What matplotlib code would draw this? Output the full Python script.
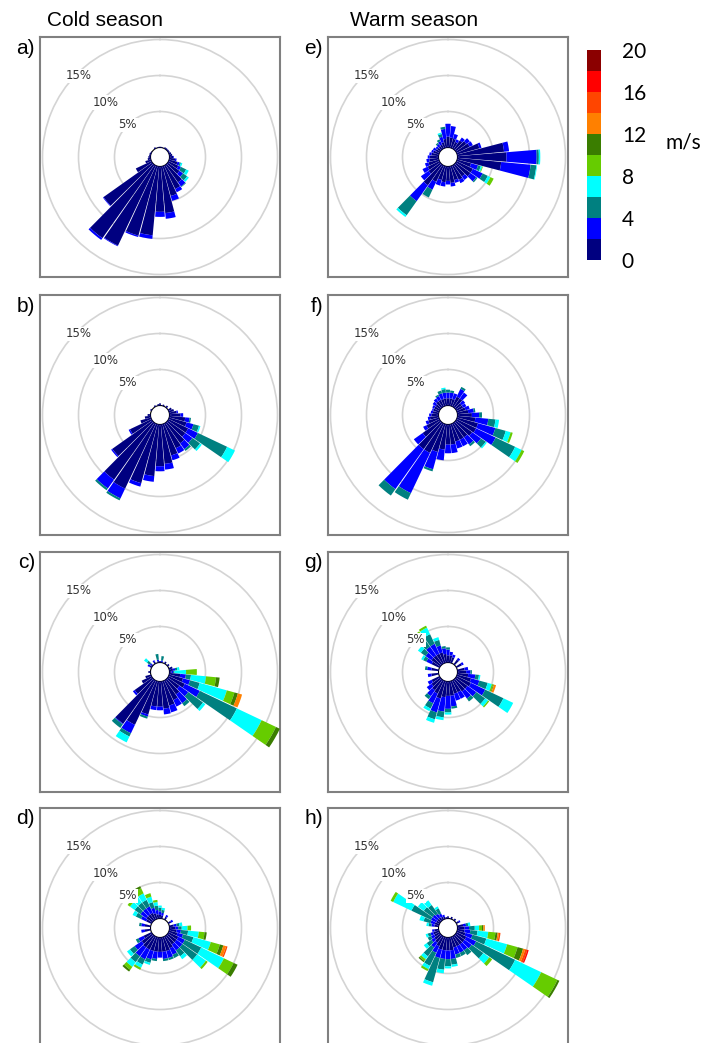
import numpy as np
import matplotlib as mpl
import matplotlib.pyplot as plt
from matplotlib.colors import ListedColormap, BoundaryNorm

# speed classes (m/s) and their colours
speed_edges = [0, 2, 4, 6, 8, 10, 12, 14, 16, 18, 20]
speed_colors = ['#000080', '#0000ff', '#008080', '#00ffff', '#66cc00',
                '#3a7d00', '#ff8000', '#ff4500', '#ff0000', '#8b0000']
cbar_ticks = [0, 4, 8, 12, 16, 20]

ring_levels = [5, 10, 15]
ring_labels = ['5%', '10%', '15%']

# frequency (%) per direction (deg), stacked by speed class
rose_a = [(0, [0.1]), (10, [0.1]), (30, [0.2]), (40, [0.2]), (50, [0.2]), (60, [0.2]),
          (70, [0.3]), (80, [0.4]), (90, [0.5, 0.1]), (100, [0.8, 0.2]),
          (110, [1.2, 0.3, 0.2, 0.2]), (120, [1.5, 0.4, 0.8, 0.4]), (130, [2.0, 0.6, 0.7, 0.3]),
          (140, [3.0, 0.7, 0.1]), (150, [3.6, 0.5]), (160, [4.3, 0.7]), (170, [6.5, 0.8]),
          (180, [6.3, 0.7]), (190, [9.6, 0.5]), (200, [10.0, 0.2]), (210, [12.3, 0.1]),
          (220, [12.5, 0.3]), (230, [8.3, 0.1]), (240, [2.4]), (250, [0.8]), (260, [0.4]),
          (270, [0.3]), (280, [0.2]), (290, [0.2]), (300, [0.1]), (330, [0.2]), (350, [0.1])]

rose_b = [(0, [0.3]), (20, [0.2]), (40, [0.3]), (60, [0.5]), (70, [0.7]), (80, [1.0, 0.2]),
          (90, [1.5, 0.4]), (100, [2.2, 0.6, 0.2]), (110, [2.5, 1.0, 0.8, 0.2]),
          (120, [3.0, 1.5, 4.5, 1.2]), (130, [3.0, 1.2, 1.3, 0.3]), (140, [3.5, 1.0, 0.3]),
          (150, [3.8, 0.8]), (160, [4.5, 0.7]), (170, [5.5, 0.8]), (180, [5.8, 0.7]),
          (190, [7.2, 0.8]), (200, [8.5, 0.5]), (210, [10.0, 1.5, 0.3]), (220, [9.7, 1.5, 0.3]),
          (230, [6.8, 0.2]), (240, [3.3, 0.2]), (250, [1.5]), (260, [0.8]), (270, [0.4]),
          (300, [0.2]), (330, [0.2]), (350, [0.2])]

rose_c = [(0, [0.2]), (10, [0.1, 0.2, 0.6]), (30, [0.3]), (50, [0.3]), (70, [0.5]),
          (80, [0.5, 0.3, 0.3, 0.3]), (90, [0.3, 0.2, 0.2, 1.6, 1.5]),
          (100, [1.5, 0.8, 0.7, 2.1, 1.4, 0.5]), (110, [2.0, 1.0, 1.4, 3.9, 1.1, 0.5, 0.6]),
          (120, [2.5, 2.3, 5.7, 3.8, 2.2, 0.6]), (130, [2.0, 1.5, 2.5, 0.4]),
          (140, [2.5, 1.5, 0.5]), (150, [3.0, 1.0]), (160, [3.5, 1.0]), (170, [3.8, 0.8]),
          (180, [3.5, 0.5]), (190, [3.5, 0.5]), (200, [4.8, 0.3, 0.3]),
          (210, [6.8, 1.3, 0.5, 0.9]), (220, [7.5, 0.1, 0.6]), (230, [3.0, 0.3]),
          (240, [1.5]), (250, [0.8]), (270, [0.3]), (300, [0.3, 0.3]), (310, [0.2, 0.2, 0.5, 0.5]),
          (330, [0.3, 0.2]), (350, [0.2, 0.2, 0.8])]

rose_d = [(0, [0.5, 0.5, 0.5, 0.3]), (10, [0.4, 0.4, 0.4, 0.3]), (30, [0.4, 0.3]),
          (60, [0.4, 0.3]), (80, [0.6, 0.4, 0.4, 0.4]), (90, [0.8, 0.4, 0.5, 0.8, 0.5]),
          (100, [1.0, 0.6, 1.0, 1.5, 0.8, 0.3]), (110, [1.2, 0.8, 1.5, 2.5, 1.3, 0.5, 0.4, 0.2]),
          (120, [1.5, 1.0, 2.5, 3.5, 1.5, 0.6]), (130, [1.5, 1.0, 2.5, 1.5, 0.3]),
          (140, [1.5, 1.0, 1.0, 0.5]), (150, [1.8, 1.0, 0.5]), (160, [2.0, 1.0, 0.3]),
          (170, [2.0, 1.0, 0.3]), (180, [2.0, 0.8]), (190, [2.0, 1.0, 0.3]),
          (200, [2.0, 1.2, 0.5, 0.3]), (210, [2.0, 1.5, 0.8, 0.5, 0.3]),
          (220, [2.0, 1.5, 1.0, 0.8, 0.5, 0.3]), (230, [1.8, 1.2, 0.8, 0.5]),
          (240, [1.2, 0.8, 0.4]), (260, [0.8, 0.5]), (280, [0.8, 0.5, 0.3]),
          (300, [0.8, 0.8, 0.8, 0.5]), (310, [1.0, 1.0, 1.0, 0.8, 0.4]),
          (320, [1.0, 1.0, 1.0, 1.0, 0.5]), (330, [1.0, 1.0, 1.0, 1.0, 0.8, 0.3]),
          (340, [0.8, 0.8, 0.8, 0.8, 0.5]), (350, [0.6, 0.6, 0.6, 0.5, 0.3])]

rose_e = [(0, [1.5, 1.8]), (10, [1.4, 1.6]), (20, [1.3, 0.7]), (30, [1.0, 0.4]),
          (40, [1.5, 0.5]), (50, [1.8, 0.6]), (60, [2.0, 0.5]), (70, [3.2, 0.3]),
          (80, [6.5, 0.7]), (90, [6.8, 4.2, 0.3, 0.2]), (100, [6.1, 4.1, 0.8, 0.1]),
          (110, [2.0, 1.0, 0.4, 0.2, 0.1]), (120, [2.5, 1.5, 0.8, 0.4, 0.5]),
          (130, [2.5, 1.0, 0.2]), (140, [2.0, 0.6]), (150, [2.2, 0.5]), (160, [2.0, 0.4]),
          (170, [2.3, 0.5]), (180, [2.0, 0.5]), (190, [2.2, 0.6]), (200, [2.0, 0.8]),
          (210, [2.5, 1.2, 1.2]), (220, [3.5, 2.7, 2.4, 0.3]), (230, [2.0, 1.3]),
          (240, [1.8, 0.8]), (250, [1.5, 0.5]), (260, [1.3, 0.4]), (270, [1.2, 0.3]),
          (280, [1.0, 0.3]), (290, [0.8, 0.3]), (300, [0.6, 0.4]), (310, [0.5, 0.3]),
          (320, [0.5, 0.4, 0.2]), (330, [0.6, 0.5, 0.3]), (340, [0.8, 0.8, 0.4, 0.2]),
          (350, [1.2, 1.4, 0.3])]

rose_f = [(0, [1.0, 0.8, 0.4]), (10, [1.0, 0.8, 0.3]), (20, [1.0, 0.8]), (30, [1.5, 1.2, 0.3]),
          (40, [1.5, 1.0]), (50, [1.0, 0.6]), (60, [1.0, 0.5]), (70, [1.2, 0.6]),
          (80, [1.5, 0.8, 0.2]), (90, [2.0, 1.0, 0.4]), (100, [2.5, 1.8, 1.0, 0.5]),
          (110, [3.0, 2.5, 1.5, 0.7, 0.3]), (120, [3.0, 3.0, 3.0, 1.0, 0.4]),
          (130, [2.8, 1.5, 0.8, 0.2]), (140, [2.5, 1.2, 0.3]), (150, [2.5, 1.0]),
          (160, [2.5, 1.0]), (170, [2.8, 1.2]), (180, [2.8, 1.2]), (190, [3.5, 1.5]),
          (200, [4.0, 2.5, 0.3]), (210, [4.5, 6.2, 1.0]), (220, [4.5, 6.8, 1.1]),
          (230, [3.0, 1.5]), (240, [2.0, 0.5]), (250, [1.5, 0.4]), (260, [1.2, 0.3]),
          (270, [1.0, 0.3]), (280, [0.8, 0.3]), (290, [0.8, 0.2]), (300, [0.8, 0.3]),
          (310, [0.8, 0.5]), (320, [1.0, 0.5]), (330, [1.0, 0.6, 0.2]), (340, [1.0, 0.8, 0.4]),
          (350, [1.0, 0.8, 0.5, 0.2])]

rose_g = [(0, [1.0, 0.8, 0.3]), (10, [1.0, 0.5]), (20, [0.8, 0.4]), (40, [0.8, 0.3]),
          (60, [0.8, 0.3]), (80, [1.0, 0.5]), (90, [1.2, 0.6, 0.2]), (100, [1.5, 1.0, 0.5, 0.2]),
          (110, [2.0, 1.2, 1.2, 0.6, 0.2, 0.1, 0.3]), (120, [2.2, 2.2, 2.8, 1.5]),
          (130, [2.0, 1.5, 1.5, 0.5, 0.2]),
          (140, [2.0, 1.2, 0.5]), (150, [1.8, 1.0]), (160, [1.8, 1.0]), (170, [2.0, 1.5, 0.3]),
          (180, [2.0, 1.8, 0.5, 0.3]), (190, [2.2, 2.0, 0.8, 0.4]), (200, [2.5, 2.0, 1.0, 0.5]),
          (210, [2.0, 1.5, 0.8, 0.4]), (220, [1.8, 1.0, 0.5]), (230, [1.5, 0.8]),
          (240, [1.2, 0.6]), (260, [1.0, 0.5]), (280, [1.0, 0.6, 0.3]), (300, [1.2, 0.8, 0.5, 0.3]),
          (310, [1.5, 1.0, 0.8, 0.5]), (320, [1.5, 1.5, 1.5, 0.8, 0.3]),
          (330, [1.5, 1.5, 1.5, 1.0, 0.3]), (340, [1.5, 1.0, 0.8, 0.4]), (350, [1.2, 0.8, 0.3])]

rose_h = [(0, [0.3]), (20, [0.3]), (40, [0.3]), (60, [0.4, 0.2]), (80, [0.8, 0.4, 0.3, 0.3]),
          (90, [1.0, 0.6, 0.8, 0.6, 0.4, 0.2, 0.2]), (100, [1.0, 0.8, 1.0, 1.5, 1.0, 0.3, 0.2, 0.2]),
          (110, [1.2, 1.0, 2.0, 3.0, 1.5, 0.8, 0.3, 0.3, 0.2]), (120, [1.5, 1.5, 6.0, 4.0, 2.5, 0.3]),
          (130, [1.5, 1.2, 2.0, 1.0, 0.5]), (140, [1.5, 1.0, 0.8]), (150, [1.5, 1.0, 0.5]),
          (160, [1.5, 1.0, 0.5]), (170, [1.8, 1.2, 0.8, 0.3]), (180, [1.8, 1.2, 1.0, 0.3]),
          (190, [1.8, 1.2, 1.5, 0.5]), (200, [1.8, 1.2, 3.5, 0.5]), (210, [1.5, 1.0, 2.0, 0.5, 0.3]),
          (220, [1.2, 0.8, 1.5, 0.5, 0.3, 0.2]), (230, [1.0, 0.5, 0.8, 0.5]), (240, [0.8, 0.5, 0.5]),
          (250, [0.8, 0.4, 0.4, 0.3]), (260, [0.6, 0.3]), (280, [0.6, 0.4, 0.4, 0.3]),
          (290, [0.6, 0.6, 1.0, 0.6]), (300, [0.5, 0.8, 3.0, 2.8, 0.4]), (310, [0.5, 0.8, 1.5, 1.0]),
          (320, [0.5, 0.6, 1.5, 0.8]), (330, [0.4, 0.5, 0.8, 0.3]), (340, [0.3, 0.3]), (350, [0.2])]

panel_labels = ['a)', 'b)', 'c)', 'd)', 'e)', 'f)', 'g)', 'h)']
panel_roses = [rose_a, rose_b, rose_c, rose_d, rose_e, rose_f, rose_g, rose_h]

W, H = 707, 1043
BOX = 240
col_x = [40, 328]
row_y = [37, 295, 552, 808]
PX_PER_PCT = 7.2
HOLE_PX = 9.5


def px_rect(x, y, w, h):
    return [x / W, 1 - (y + h) / H, w / W, h / H]


def draw_rose(fig, x0, y0, rose, label):
    # square frame
    box = fig.add_axes(px_rect(x0, y0, BOX, BOX))
    box.set_xticks([])
    box.set_yticks([])
    for s in box.spines.values():
        s.set_color('#808080')
        s.set_linewidth(1.5)

    ax = fig.add_axes(px_rect(x0, y0, BOX, BOX), projection='polar')
    ax.patch.set_alpha(0)
    ax.set_theta_zero_location('N')
    ax.set_theta_direction(-1)
    hole = HOLE_PX / PX_PER_PCT
    ax.set_rorigin(-hole)
    ax.set_ylim(0, (BOX / 2) / PX_PER_PCT - hole)
    ax.set_xticks([])
    ax.set_yticks(ring_levels)
    ax.set_yticklabels([])
    ax.yaxis.grid(True, color='#d4d4d4', linewidth=1.2)
    ax.spines['polar'].set_visible(False)
    ax.set_axisbelow(True)

    width = np.deg2rad(9.3)
    for direction, freqs in rose:
        theta = np.deg2rad(direction)
        bottom = 0.0
        for k, f in enumerate(freqs):
            ax.bar(theta, f, width=width, bottom=bottom, color=speed_colors[k],
                   linewidth=0, clip_on=False, zorder=3)
            bottom += f

    for r, txt in zip([5.0, 9.4, 14.6], ring_labels):
        ax.text(np.deg2rad(315), r, txt, ha='center', va='center', fontsize=8.5,
                color='#333333', zorder=4,
                bbox=dict(facecolor='white', edgecolor='none', pad=0.5))

    fig.text((x0 - 5) / W, 1 - (y0 + 11) / H, label, ha='right', va='center',
             fontsize=15, family='Liberation Sans')


fig = plt.figure(figsize=(W / 100, H / 100), dpi=100)

for i, (label, rose) in enumerate(zip(panel_labels, panel_roses)):
    draw_rose(fig, col_x[i // 4], row_y[i % 4], rose, label)

fig.text(47 / W, 1 - 20 / H, 'Cold season', ha='left', va='center', fontsize=15,
         family='Liberation Sans')
fig.text(350 / W, 1 - 20 / H, 'Warm season', ha='left', va='center', fontsize=15,
         family='Liberation Sans')

# colour bar
cax = fig.add_axes(px_rect(587, 50, 14, 210))
cmap = ListedColormap(speed_colors)
norm = BoundaryNorm(speed_edges, cmap.N)
cb = mpl.colorbar.ColorbarBase(cax, cmap=cmap, norm=norm, ticks=cbar_ticks)
cb.outline.set_visible(False)
cax.minorticks_off()
cax.tick_params(which='both', length=0, labelsize=15, pad=15)
for t in cax.get_yticklabels():
    t.set_family('Lato')
fig.text(683 / W, 1 - 142 / H, 'm/s', ha='center', va='center', fontsize=15, family='Lato')

fig.savefig('out.png', dpi=100)
